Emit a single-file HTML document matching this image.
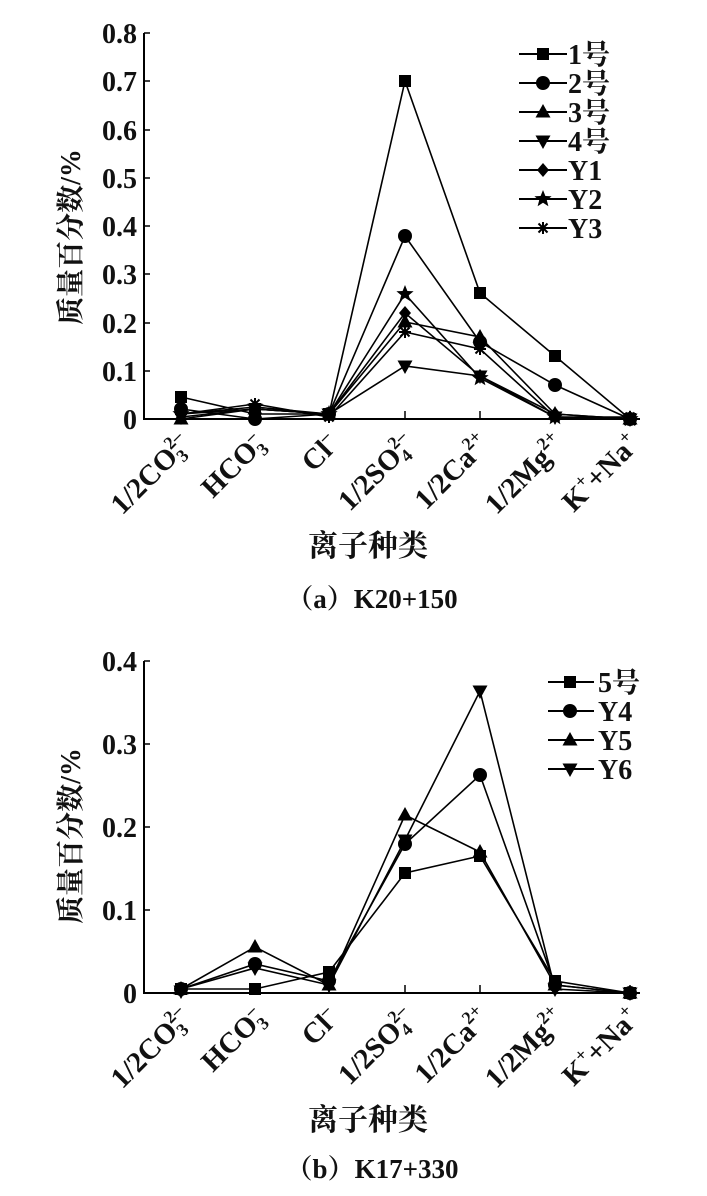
<!DOCTYPE html>
<html><head><meta charset="utf-8"><style>
html,body{margin:0;padding:0;background:#fff;}
svg{display:block;font-family:"Liberation Serif","Noto Serif CJK SC",serif;}
text{font-weight:bold;fill:#111;}
</style></head><body>
<svg width="707" height="1196" viewBox="0 0 707 1196" xmlns="http://www.w3.org/2000/svg">
<defs>
<g id="sq"><rect x="-6" y="-6" width="12" height="12" fill="#000"/></g>
<g id="ci"><circle r="7" fill="#000"/></g>
<g id="tu"><polygon points="0,-8 7.5,5.5 -7.5,5.5" fill="#000"/></g>
<g id="td"><polygon points="0,8 7.5,-5.5 -7.5,-5.5" fill="#000"/></g>
<g id="di"><polygon points="0,-7 6,0 0,7 -6,0" fill="#000"/></g>
<g id="st"><polygon points="0,-9 2.4,-3 8.6,-2.8 3.8,1.2 5.4,7.3 0,3.8 -5.4,7.3 -3.8,1.2 -8.6,-2.8 -2.4,-3" fill="#000"/></g>
<g id="as" stroke="#000" stroke-width="2"><line x1="-6" y1="0" x2="6" y2="0"/><line x1="0" y1="-6" x2="0" y2="6"/><line x1="-4.5" y1="-4.5" x2="4.5" y2="4.5"/><line x1="-4.5" y1="4.5" x2="4.5" y2="-4.5"/></g>
</defs>

<!-- TOP CHART -->
<g stroke="#000" stroke-width="2" fill="none">
<line x1="144" y1="33" x2="144" y2="420"/>
<line x1="143" y1="419" x2="640" y2="419"/>
</g>
<g stroke="#000" stroke-width="1.5">
<line x1="144" y1="33" x2="150" y2="33"/><line x1="144" y1="81" x2="150" y2="81"/><line x1="144" y1="130" x2="150" y2="130"/><line x1="144" y1="178" x2="150" y2="178"/><line x1="144" y1="226" x2="150" y2="226"/><line x1="144" y1="274" x2="150" y2="274"/><line x1="144" y1="323" x2="150" y2="323"/><line x1="144" y1="371" x2="150" y2="371"/>
<line x1="181" y1="419" x2="181" y2="411"/><line x1="255" y1="419" x2="255" y2="411"/><line x1="329" y1="419" x2="329" y2="411"/><line x1="405" y1="419" x2="405" y2="411"/><line x1="480" y1="419" x2="480" y2="411"/><line x1="555" y1="419" x2="555" y2="411"/><line x1="630" y1="419" x2="630" y2="411"/>
</g>
<g font-size="28" text-anchor="end">
<text x="137" y="43">0.8</text><text x="137" y="91">0.7</text><text x="137" y="140">0.6</text><text x="137" y="188">0.5</text><text x="137" y="236">0.4</text><text x="137" y="284">0.3</text><text x="137" y="333">0.2</text><text x="137" y="381">0.1</text><text x="137" y="429">0</text>
</g>
<text font-size="28" transform="translate(80,237) rotate(-90)" text-anchor="middle">质量百分数/%</text>

<g stroke="#000" stroke-width="1.6" fill="none">
<polyline points="181,397 255,414 329,414 405,81 480,293 555,356 630,419"/>
<polyline points="181,409 255,419 329,414 405,236 480,342 555,385 630,419"/>
<polyline points="181,419 255,409 329,414 405,322 480,337 555,414 630,419"/>
<polyline points="181,417 255,409 329,414 405,366 480,376 555,417 630,419"/>
<polyline points="181,414 255,409 329,414 405,313 480,376 555,414 630,419"/>
<polyline points="181,414 255,407 329,414 405,294 480,378 555,417 630,419"/>
<polyline points="181,414 255,404 329,417 405,332 480,349 555,417 630,417"/>
</g>
<g>
<use href="#sq" x="181" y="397"/><use href="#sq" x="255" y="414"/><use href="#sq" x="329" y="414"/><use href="#sq" x="405" y="81"/><use href="#sq" x="480" y="293"/><use href="#sq" x="555" y="356"/><use href="#sq" x="630" y="419"/>
<use href="#ci" x="181" y="409"/><use href="#ci" x="255" y="419"/><use href="#ci" x="329" y="414"/><use href="#ci" x="405" y="236"/><use href="#ci" x="480" y="342"/><use href="#ci" x="555" y="385"/><use href="#ci" x="630" y="419"/>
<use href="#tu" x="181" y="419"/><use href="#tu" x="255" y="409"/><use href="#tu" x="329" y="414"/><use href="#tu" x="405" y="322"/><use href="#tu" x="480" y="337"/><use href="#tu" x="555" y="414"/><use href="#tu" x="630" y="419"/>
<use href="#td" x="181" y="417"/><use href="#td" x="255" y="409"/><use href="#td" x="329" y="414"/><use href="#td" x="405" y="366"/><use href="#td" x="480" y="376"/><use href="#td" x="555" y="417"/><use href="#td" x="630" y="419"/>
<use href="#di" x="181" y="414"/><use href="#di" x="255" y="409"/><use href="#di" x="329" y="414"/><use href="#di" x="405" y="313"/><use href="#di" x="480" y="376"/><use href="#di" x="555" y="414"/><use href="#di" x="630" y="419"/>
<use href="#st" x="181" y="414"/><use href="#st" x="255" y="407"/><use href="#st" x="329" y="414"/><use href="#st" x="405" y="294"/><use href="#st" x="480" y="378"/><use href="#st" x="555" y="417"/><use href="#st" x="630" y="419"/>
<use href="#as" x="181" y="414"/><use href="#as" x="255" y="404"/><use href="#as" x="329" y="417"/><use href="#as" x="405" y="332"/><use href="#as" x="480" y="349"/><use href="#as" x="555" y="417"/><use href="#as" x="630" y="417"/>
</g>
<!-- legend top -->
<g stroke="#000" stroke-width="2">
<line x1="519" y1="54" x2="567" y2="54"/><line x1="519" y1="83" x2="567" y2="83"/><line x1="519" y1="112" x2="567" y2="112"/><line x1="519" y1="141" x2="567" y2="141"/><line x1="519" y1="170" x2="567" y2="170"/><line x1="519" y1="199" x2="567" y2="199"/><line x1="519" y1="228" x2="567" y2="228"/>
</g>
<use href="#sq" x="543" y="54"/><use href="#ci" x="543" y="83"/><use href="#tu" x="543" y="112"/><use href="#td" x="543" y="141"/><use href="#di" x="543" y="170"/><use href="#st" x="543" y="199"/><use href="#as" x="543" y="228"/>
<g font-size="28">
<text x="568" y="64">1号</text><text x="568" y="93">2号</text><text x="568" y="122">3号</text><text x="568" y="151">4号</text><text x="568" y="180">Y1</text><text x="568" y="209">Y2</text><text x="568" y="238">Y3</text>
</g>
<!-- x labels top -->
<g font-size="29" text-anchor="end">
<text transform="translate(192,446) rotate(-45)">1/2CO<tspan font-size="18" dy="6">3</tspan><tspan font-size="18" dy="-18" dx="-9">2–</tspan></text>
<text transform="translate(266,446) rotate(-45)">HCO<tspan font-size="18" dy="6">3</tspan><tspan font-size="18" dy="-18" dx="-9">–</tspan></text>
<text transform="translate(340,446) rotate(-45)">Cl<tspan font-size="18" dy="-12">–</tspan></text>
<text transform="translate(416,446) rotate(-45)">1/2SO<tspan font-size="18" dy="6">4</tspan><tspan font-size="18" dy="-18" dx="-9">2–</tspan></text>
<text transform="translate(491,446) rotate(-45)">1/2Ca<tspan font-size="18" dy="-12">2+</tspan></text>
<text transform="translate(566,446) rotate(-45)">1/2Mg<tspan font-size="18" dy="-12">2+</tspan></text>
<text transform="translate(641,446) rotate(-45)">K<tspan font-size="18" dy="-12">+</tspan><tspan dy="12">+Na</tspan><tspan font-size="18" dy="-12">+</tspan></text>
</g>
<text font-size="30" x="368" y="556" text-anchor="middle">离子种类</text>
<text font-size="27" x="372" y="608" text-anchor="middle">（a）K20+150</text>

<!-- BOTTOM CHART -->
<g stroke="#000" stroke-width="2" fill="none">
<line x1="144" y1="661" x2="144" y2="994"/>
<line x1="143" y1="993" x2="640" y2="993"/>
</g>
<g stroke="#000" stroke-width="1.5">
<line x1="144" y1="661" x2="150" y2="661"/><line x1="144" y1="744" x2="150" y2="744"/><line x1="144" y1="827" x2="150" y2="827"/><line x1="144" y1="910" x2="150" y2="910"/>
<line x1="181" y1="993" x2="181" y2="985"/><line x1="255" y1="993" x2="255" y2="985"/><line x1="329" y1="993" x2="329" y2="985"/><line x1="405" y1="993" x2="405" y2="985"/><line x1="480" y1="993" x2="480" y2="985"/><line x1="555" y1="993" x2="555" y2="985"/><line x1="630" y1="993" x2="630" y2="985"/>
</g>
<g font-size="28" text-anchor="end">
<text x="137" y="671">0.4</text><text x="137" y="754">0.3</text><text x="137" y="837">0.2</text><text x="137" y="920">0.1</text><text x="137" y="1003">0</text>
</g>
<text font-size="28" transform="translate(80,836) rotate(-90)" text-anchor="middle">质量百分数/%</text>
<g stroke="#000" stroke-width="1.6" fill="none">
<polyline points="181,989 255,989 329,972 405,873 480,856 555,981 630,993"/>
<polyline points="181,989 255,964 329,981 405,844 480,775 555,985 630,993"/>
<polyline points="181,989 255,947 329,985 405,815 480,852 555,985 630,993"/>
<polyline points="181,989 255,968 329,985 405,840 480,691 555,989 630,993"/>
</g>
<g>
<use href="#sq" x="181" y="989"/><use href="#sq" x="255" y="989"/><use href="#sq" x="329" y="972"/><use href="#sq" x="405" y="873"/><use href="#sq" x="480" y="856"/><use href="#sq" x="555" y="981"/><use href="#sq" x="630" y="993"/>
<use href="#ci" x="181" y="989"/><use href="#ci" x="255" y="964"/><use href="#ci" x="329" y="981"/><use href="#ci" x="405" y="844"/><use href="#ci" x="480" y="775"/><use href="#ci" x="555" y="985"/><use href="#ci" x="630" y="993"/>
<use href="#tu" x="181" y="989"/><use href="#tu" x="255" y="947"/><use href="#tu" x="329" y="985"/><use href="#tu" x="405" y="815"/><use href="#tu" x="480" y="852"/><use href="#tu" x="555" y="985"/><use href="#tu" x="630" y="993"/>
<use href="#td" x="181" y="991"/><use href="#td" x="255" y="968"/><use href="#td" x="329" y="985"/><use href="#td" x="405" y="840"/><use href="#td" x="480" y="691"/><use href="#td" x="555" y="989"/><use href="#td" x="630" y="993"/>
</g>
<g stroke="#000" stroke-width="2">
<line x1="548" y1="682" x2="594" y2="682"/><line x1="548" y1="711" x2="594" y2="711"/><line x1="548" y1="740" x2="594" y2="740"/><line x1="548" y1="769" x2="594" y2="769"/>
</g>
<use href="#sq" x="570" y="682"/><use href="#ci" x="570" y="711"/><use href="#tu" x="570" y="740"/><use href="#td" x="570" y="769"/>
<g font-size="28">
<text x="598" y="692">5号</text><text x="598" y="721">Y4</text><text x="598" y="750">Y5</text><text x="598" y="779">Y6</text>
</g>
<g font-size="29" text-anchor="end">
<text transform="translate(192,1020) rotate(-45)">1/2CO<tspan font-size="18" dy="6">3</tspan><tspan font-size="18" dy="-18" dx="-9">2–</tspan></text>
<text transform="translate(266,1020) rotate(-45)">HCO<tspan font-size="18" dy="6">3</tspan><tspan font-size="18" dy="-18" dx="-9">–</tspan></text>
<text transform="translate(340,1020) rotate(-45)">Cl<tspan font-size="18" dy="-12">–</tspan></text>
<text transform="translate(416,1020) rotate(-45)">1/2SO<tspan font-size="18" dy="6">4</tspan><tspan font-size="18" dy="-18" dx="-9">2–</tspan></text>
<text transform="translate(491,1020) rotate(-45)">1/2Ca<tspan font-size="18" dy="-12">2+</tspan></text>
<text transform="translate(566,1020) rotate(-45)">1/2Mg<tspan font-size="18" dy="-12">2+</tspan></text>
<text transform="translate(641,1020) rotate(-45)">K<tspan font-size="18" dy="-12">+</tspan><tspan dy="12">+Na</tspan><tspan font-size="18" dy="-12">+</tspan></text>
</g>
<text font-size="30" x="368" y="1130" text-anchor="middle">离子种类</text>
<text font-size="27" x="372" y="1178" text-anchor="middle">（b）K17+330</text>
</svg>
</body></html>
